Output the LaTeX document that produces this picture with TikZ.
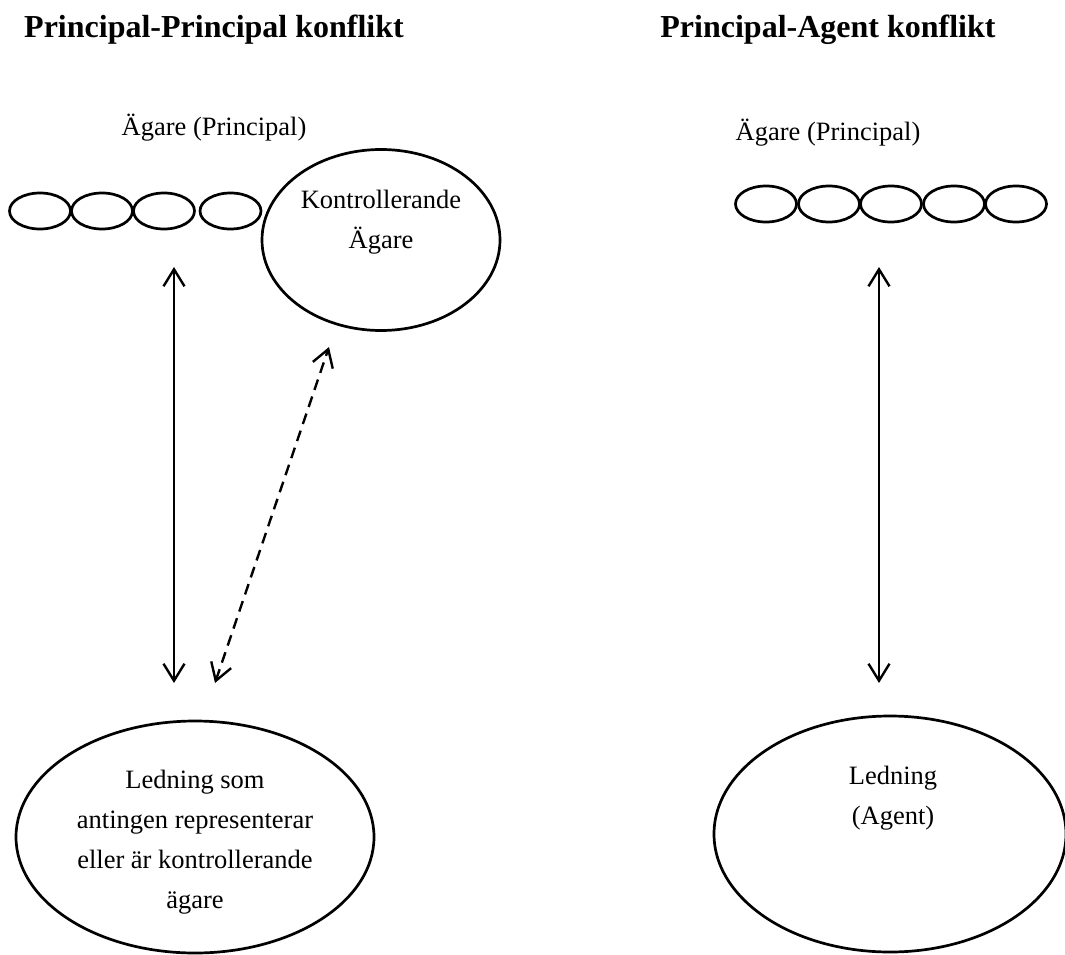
\documentclass[tikz,border=0pt]{standalone}
\usepackage{fontspec}
\setmainfont{Liberation Serif}
\usetikzlibrary{shapes.geometric,arrows.meta}
\begin{document}
\begin{tikzpicture}[x=1pt,y=-1pt,
  oval/.style={draw, ellipse, line width=2.7pt, inner sep=0pt},
  smalloval/.style={oval, minimum width=61pt, minimum height=36pt},
  txt/.style={font=\fontsize{26.5}{40}\selectfont, align=center, inner sep=0pt},
  ttl/.style={font=\fontsize{32}{38}\selectfont\bfseries, inner sep=0pt},
  >={Straight Barb[length=17pt,width=21pt,line width=2.4pt]},
  link/.style={line width=2.4pt, <->},
  dlink/.style={link, dash pattern=on 11pt off 7pt}
]
\useasboundingbox (0,0) rectangle (1065,955);

% titles
\node[ttl] (t1) at (214,30) {Principal-Principal konflikt};
\node[ttl] (t2) at (828,30) {Principal-Agent konflikt};

% left side
\node[txt] (own1) at (214,128) {Ägare (Principal)};
\node[smalloval] (l1) at (40,211) {};
\node[smalloval] (l2) at (102,211) {};
\node[smalloval] (l3) at (164,211) {};
\node[smalloval] (l4) at (230.5,211) {};
\node[oval, minimum width=238pt, minimum height=181pt] (kont) at (381,240) {};
\node[txt] (konttxt) at (381,222) {Kontrollerande\\Ägare};
\node[oval, minimum width=358pt, minimum height=232pt] (led1) at (195,837) {};
\node[txt] (led1txt) at (195,842) {Ledning som\\antingen representerar\\eller är kontrollerande\\ägare};

\coordinate (a1t) at (174,267);
\coordinate (a1b) at (174,683);
\coordinate (a2t) at (329,347);
\coordinate (a2b) at (215,683);
\draw[link] (a1b) -- (a1t);
\draw[dlink] (a2b) -- (a2t);

% right side
\node[txt] (own2) at (828,133) {Ägare (Principal)};
\node[smalloval] (r1) at (766,204) {};
\node[smalloval] (r2) at (829,204) {};
\node[smalloval] (r3) at (891,204) {};
\node[smalloval] (r4) at (954,204) {};
\node[smalloval] (r5) at (1016,204) {};
\node[oval, minimum width=352pt, minimum height=236pt] (led2) at (890,834) {};
\node[txt] (led2txt) at (893,798) {Ledning\\(Agent)};

\coordinate (a3t) at (879,267);
\coordinate (a3b) at (879,683);
\draw[link] (a3b) -- (a3t);
\end{tikzpicture}
\end{document}
